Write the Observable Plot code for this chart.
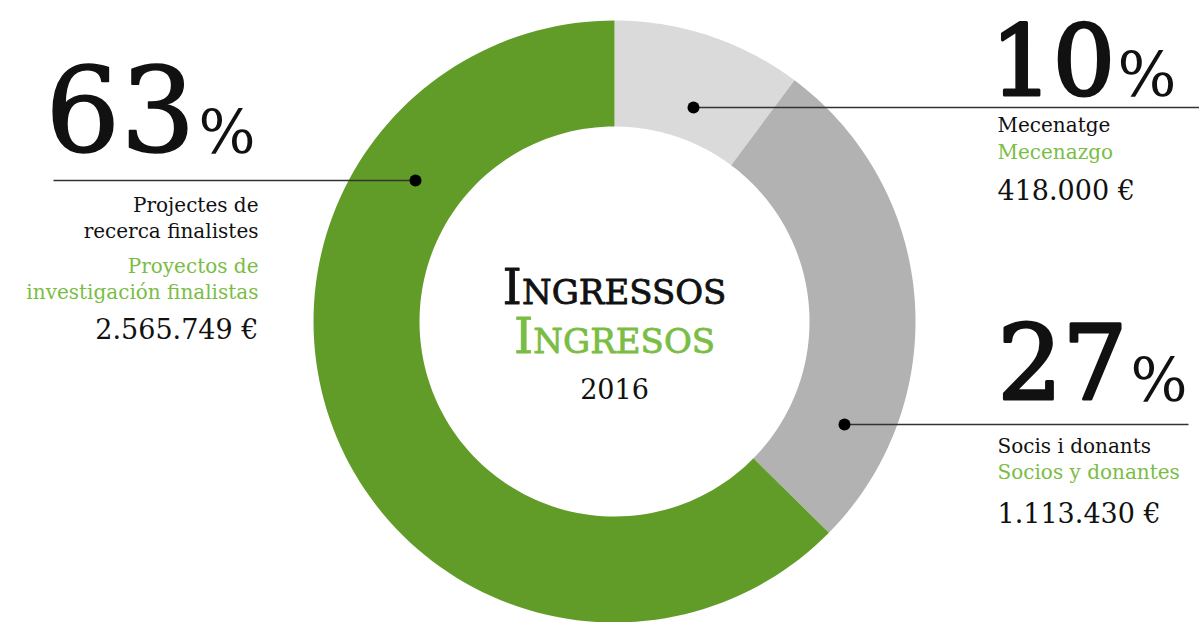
<!DOCTYPE html>
<html><head><meta charset="utf-8">
<script src="https://cdn.jsdelivr.net/npm/d3@7"></script>
<script src="https://cdn.jsdelivr.net/npm/@observablehq/plot@0.6"></script>
<style>html,body{margin:0;padding:0;background:#fff;overflow:hidden}</style>
</head><body><div id="chart"></div>
<script>
// ---- data ----
const categoriesCa = ["Mecenatge", "Socis i donants", "Projectes de\nrecerca finalistes"];
const categoriesEs = ["Mecenazgo", "Socios y donantes", "Proyectos de\ninvestigación finalistas"];
const amounts = [418000, 1113430, 2565749];
const titleCa = "Ingressos";
const titleEs = "Ingresos";
const year = "2016";

// ---- style ----
const ringColors = ["#dadada", "#b2b2b2", "#629c28"];
const greenText = "#7abd45";
const ink = "#111";
const serif = "DejaVu Serif";

// ---- layout (pixels) ----
const W = 1199, H = 622;
const CX = 614, CY = 321, R = 301, RIN = 195;
const layout = [
  {dot: [693, 107], ruleEnd: 1199, side: "start", tx: 997, bigX: 990, bigY: 94, bigSize: 98, bigStroke: 3, pctX: 1117, pctY: 95, pctSize: 62, caY: 131, esY: 158, amtY: 199},
  {dot: [844, 424], ruleEnd: 1188, side: "start", tx: 997, bigX: 997, bigY: 398, bigSize: 102, bigStroke: 3, pctX: 1130, pctY: 400, pctSize: 60, caY: 452, esY: 478, amtY: 522},
  {dot: [415, 180], ruleEnd: 53, side: "end", tx: 258, bigX: 195, bigY: 150, bigSize: 118, bigStroke: 1.5, pctX: 198, pctY: 152, pctSize: 60, caY: 237, esY: 298, amtY: 338}
];

// px -> unit coordinates of the x/y scales
const ux = px => (px - CX) / R;
const uy = py => (CY - py) / R;

const total = d3.sum(amounts);
const euro = d3.formatLocale({decimal: ",", thousands: ".", grouping: [3], currency: ["", ""]}).format(",d");

// ring polygons from pie angles
const pie = d3.pie().sort(null).value(d => d.amount)(amounts.map((amount, i) => ({amount, cat: categoriesCa[i]})));
const inner = RIN / R;
const ring = [];
pie.forEach(p => {
  const n = 120;
  for (let k = 0; k <= n; k++) {
    const a = p.startAngle + (p.endAngle - p.startAngle) * k / n;
    ring.push({cat: p.data.cat, x: Math.sin(a), y: Math.cos(a)});
  }
  for (let k = n; k >= 0; k--) {
    const a = p.startAngle + (p.endAngle - p.startAngle) * k / n;
    ring.push({cat: p.data.cat, x: inner * Math.sin(a), y: inner * Math.cos(a)});
  }
});

const anchors = layout.map((l, i) => ({cat: categoriesCa[i], x: ux(l.dot[0]), y: uy(l.dot[1]), x2: ux(l.ruleEnd)}));

const texts = [];
layout.forEach((l, i) => {
  const pct = Math.round(amounts[i] / total * 100);
  texts.push({text: String(pct), x: l.bigX, y: l.bigY, size: l.bigSize, fill: ink, anchor: l.side === "end" ? "end" : "start", stroke: l.bigStroke});
  texts.push({text: "%", x: l.pctX, y: l.pctY, size: l.pctSize, fill: ink, anchor: "start"});
  texts.push({text: categoriesCa[i], x: l.tx, y: l.caY, size: 20, fill: ink, anchor: l.side});
  texts.push({text: categoriesEs[i], x: l.tx, y: l.esY, size: 20, fill: greenText, anchor: l.side});
  texts.push({text: euro(amounts[i]) + " €", x: l.tx, y: l.amtY, size: 27, fill: ink, anchor: l.side});
});

const textMarks = texts.map(t => Plot.text([t], {
  x: d => ux(d.x), y: d => uy(d.y), text: "text",
  fontSize: t.size, fill: t.fill, textAnchor: t.anchor, lineAnchor: "bottom",
  lineHeight: 1.3, fontFamily: serif,
  stroke: t.stroke ? t.fill : null, strokeWidth: t.stroke || 0
}));

const chart = Plot.plot({
  width: W, height: H,
  margin: 0,
  style: {background: "#fff", fontFamily: serif},
  x: {domain: [-1, 1], range: [CX - R, CX + R], axis: null},
  y: {domain: [-1, 1], range: [CY + R, CY - R], axis: null},
  color: {domain: categoriesCa, range: ringColors},
  marks: [
    Plot.line(ring, {x: "x", y: "y", z: "cat", fill: "cat", stroke: null, curve: "linear"}),
    Plot.link(anchors, {x1: "x", y1: "y", x2: "x2", y2: "y", stroke: "#333", strokeWidth: 1.6}),
    Plot.dot(anchors, {x: "x", y: "y", r: 6, fill: "#000", stroke: null}),
    Plot.text([titleCa], {x: 0, y: uy(303), text: d => d, fontSize: 49, fontVariant: "small-caps", fill: ink, stroke: ink, strokeWidth: 0.8, lineAnchor: "bottom", fontFamily: serif}),
    Plot.text([titleEs], {x: 0, y: uy(352), text: d => d, fontSize: 49, fontVariant: "small-caps", fill: greenText, stroke: greenText, strokeWidth: 0.8, lineAnchor: "bottom", fontFamily: serif}),
    Plot.text([year], {x: 0, y: uy(398), text: d => d, fontSize: 27, fill: ink, lineAnchor: "bottom", fontFamily: serif}),
    ...textMarks
  ]
});
document.getElementById("chart").append(chart);
</script></body></html>
